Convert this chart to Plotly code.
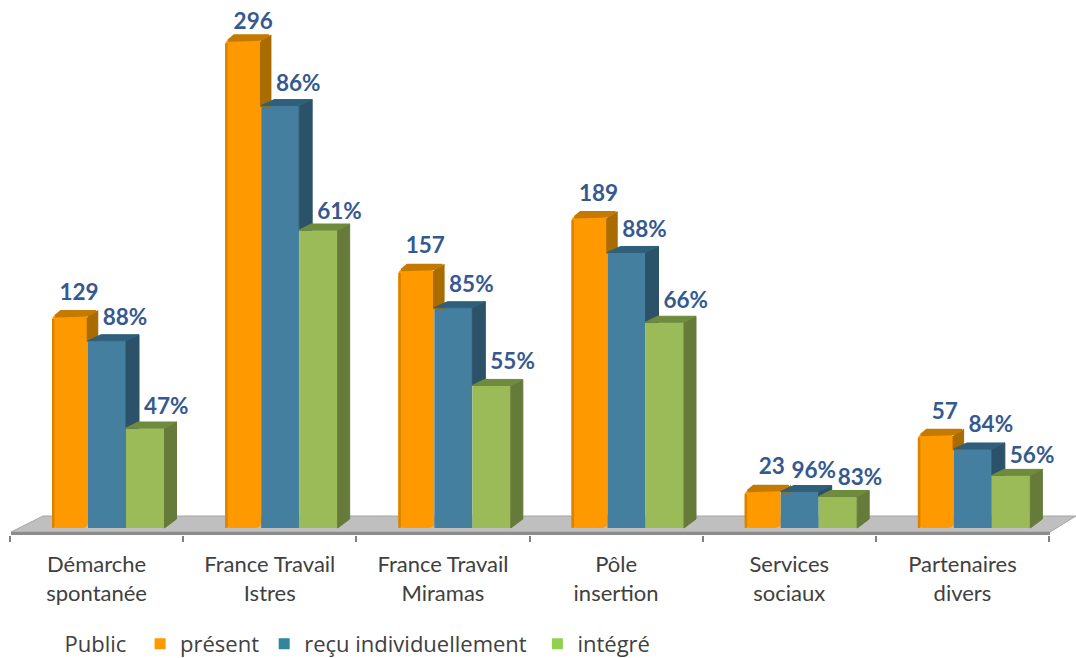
import plotly.graph_objects as go

categories = ["Démarche<br>spontanée", "France Travail<br>Istres", "France Travail<br>Miramas",
              "Pôle<br>insertion", "Services<br>sociaux", "Partenaires<br>divers"]
present = [129, 296, 157, 189, 23, 57]
recu = [113.5, 256, 133.5, 167, 22.1, 47.9]
integre = [60.6, 180.6, 86.4, 124.7, 19.1, 31.9]
present_labels = ["129", "296", "157", "189", "23", "57"]
recu_labels = ["88%", "86%", "85%", "88%", "96%", "84%"]
integre_labels = ["47%", "61%", "55%", "66%", "83%", "56%"]
legend_title = "Public\u00a0"
series_names = ["présent", "reçu individuellement\u00a0", "intégré"]

W, H = 1076, 658
PX_PER_CAT = 173.17      # horizontal pixels for one category
PX_PER_UNIT = 1.65       # vertical pixels for one value unit
LEFT, BASE, BOTTOM = 10, 528, 535

def dx(px):
    return px / PX_PER_CAT

def dy(px):
    return px / PX_PER_UNIT

def xp(px):
    return (px - LEFT) / PX_PER_CAT

def yp(px):
    return (BASE - px) / PX_PER_UNIT

series = [
    dict(vals=present, labels=present_labels, off=dx(42), w=dx(36), front="#FF9900", top="#C47A00", side="#A96C00",
         depth=9, rise=5, lab=[9, 10, 9, 9, 9, 9], above=[21, 16, 22, 21, 22, 21], edge=2.5),
    dict(vals=recu, labels=recu_labels, off=dx(78), w=dx(38), front="#457F9F", top="#2F5F7A", side="#2B5269",
         depth=13, rise=6, lab=[18, 18, 18, 18, 14, 18], above=[21, 20, 21, 21.5, 19.5, 23], edge=1),
    dict(vals=integre, labels=integre_labels, off=dx(116), w=dx(38.5), front="#9BBB59", top="#6F8B3D", side="#667A3A",
         depth=12, rise=6, lab=[21, 21, 21, 21, 22, 21], above=[20, 17, 22, 20, 17.5, 18], edge=1),
]

fig = go.Figure()
xs = list(range(len(categories)))

# front faces
for s in series:
    fig.add_trace(go.Bar(
        x=xs, y=s["vals"], offset=s["off"], width=s["w"], base=0,
        marker=dict(color=s["front"], line_width=0, cornerradius=5 if s is series[0] else 0),
        showlegend=False, hoverinfo="skip"))
fig.add_trace(go.Bar(
    x=xs, y=[v - dy(4) for v in present], offset=series[0]["off"], width=dx(2.5), base=0,
    marker=dict(color="#D98300", line_width=0),
    showlegend=False, hoverinfo="skip"))

# side and top faces, computed from the values
def poly(px, py, color, lw=1):
    fig.add_trace(go.Scatter(
        x=px + [px[0]], y=py + [py[0]], mode="lines", fill="toself", fillcolor=color,
        line=dict(color=color, width=lw), showlegend=False, hoverinfo="skip"))

for si, s in enumerate(series):
    for i in xs:
        v = s["vals"][i]
        l = i + s["off"]
        r = l + s["w"]
        d, h = dx(s["depth"]), dy(s["rise"])
        if si == 2:
            # last bar: side runs to the floor, slanted bottom edge
            poly([r, r + d, r + d, r], [v, v + h, dy(9), 0], s["side"])
        else:
            low = series[si + 1]["vals"][i]
            poly([r, r + d, r + d, r], [v - dy(2 if si == 0 else 0), v + h - dy(2 if si == 0 else 0), low, low],
                 s["side"], s["edge"])
        inset = dx(3) if si == 0 else 0
        poly([l + inset, l + d, r + d - dx(1 if si == 0 else 0), r],
             [v - dy(1 if si == 0 else 0), v + h - dy(1 if si == 0 else 0), v + h - dy(1 if si == 0 else 0), v],
             s["top"], s["edge"])

# value labels
for s in series:
    fig.add_trace(go.Scatter(
        x=[i + s["off"] + s["w"] / 2 + dx(o) for i, o in zip(xs, s["lab"])],
        y=[v + dy(a) for v, a in zip(s["vals"], s["above"])],
        mode="text", text=s["labels"], textposition="middle center",
        textfont=dict(family="Lato", size=22.5, color="#35598F", weight="bold"),
        showlegend=False, hoverinfo="skip", cliponaxis=False))

# legend entries
for name, col in zip(series_names, ["#FF9900", "#31859C", "#92D050"]):
    fig.add_trace(go.Scatter(
        x=[None], y=[None], mode="markers", name=name,
        marker=dict(symbol="square", size=11, color=col)))

floor = ("M {} {} L {} {} L {} {} L {} {} Z".format(
    xp(11), yp(532), xp(43), yp(516), xp(1076), yp(516), xp(1050), yp(532)))

fig.update_layout(
    width=W, height=H,
    margin=dict(l=LEFT, r=0, t=0, b=H - BOTTOM, pad=0, autoexpand=False),
    paper_bgcolor="white", plot_bgcolor="white",
    barmode="overlay",
    font=dict(family="Lato", color="#404040"),
    xaxis=dict(
        range=[0, (W - LEFT) / PX_PER_CAT], tickmode="array",
        tickvals=[i + 0.5 for i in xs], ticktext=categories, ticks="", showgrid=False,
        zeroline=False, showline=False, tickfont=dict(family="Lato", size=22, color="#404040"),
        ticklabelstandoff=14,
        minor=dict(tickmode="array", tickvals=list(range(len(categories) + 1)), ticks="outside",
                   ticklen=6, tickwidth=2, tickcolor="#808080", showgrid=False),
    ),
    yaxis=dict(range=[yp(BOTTOM), yp(0)], visible=False, showgrid=False, zeroline=False),
    shapes=[
        dict(type="path", path=floor, xref="x", yref="y", layer="below",
             fillcolor="#BFBFBF", line=dict(color="#A6A6A6", width=1)),
        dict(type="rect", xref="x", yref="y", layer="below",
             x0=xp(11), x1=xp(1050), y0=yp(535), y1=yp(532),
             fillcolor="#8C8C8C", line_width=0),
    ],
    legend=dict(
        orientation="h", x=53 / W, xanchor="left", y=-(H - BOTTOM + 7) / BOTTOM, yanchor="bottom",
        title=dict(text=legend_title, side="left", font=dict(family="Open Sans", size=22, color="#404040")),
        font=dict(family="Open Sans", size=22, color="#404040"),
        bgcolor="rgba(0,0,0,0)", itemwidth=30, tracegroupgap=0,
    ),
)
fig.write_html("out.html", config={"displayModeBar": False},
               post_script="document.body.style.margin='0';")
